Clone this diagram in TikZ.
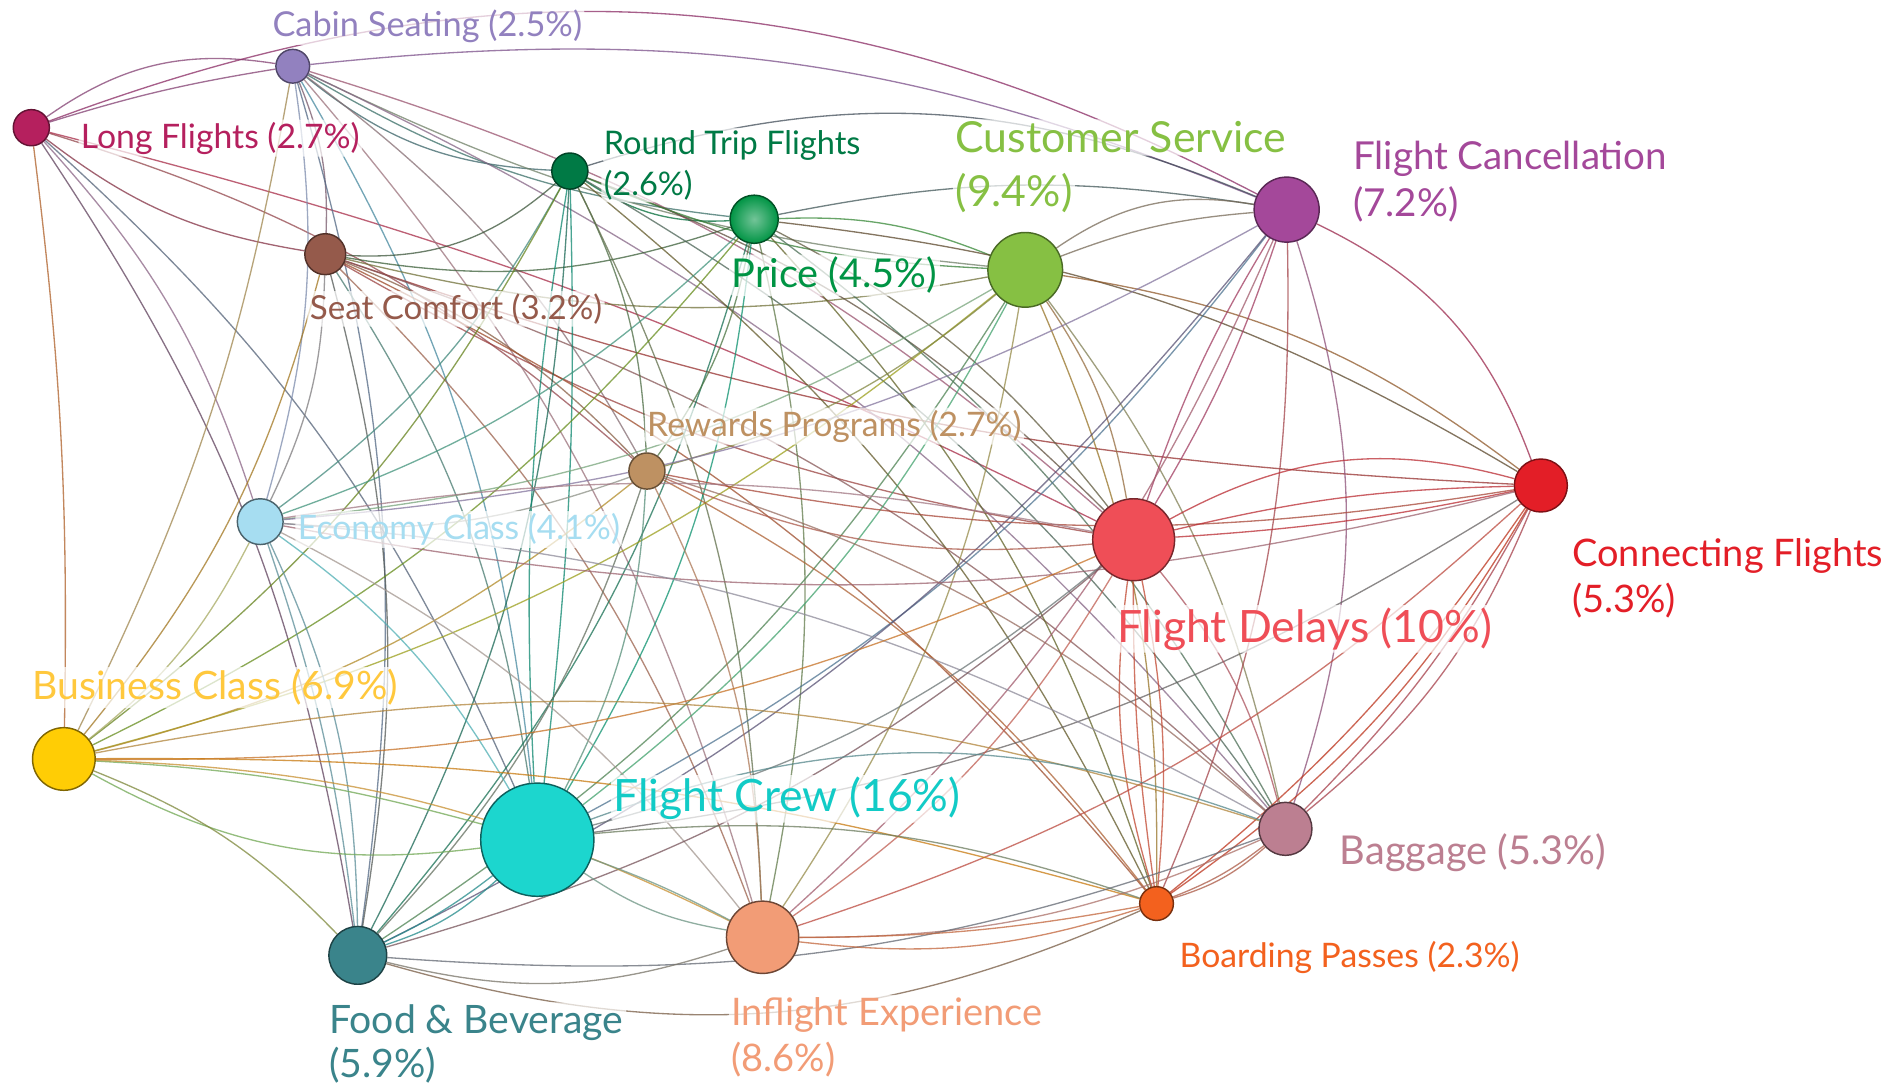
\documentclass[tikz,border=0pt]{standalone}
\usepackage{fontspec}
\setmainfont{Lato}
\pgfdeclarelayer{bg}
\pgfsetlayers{bg,main}

% node colours
\definecolor{cCS}{HTML}{9281BF}
\definecolor{cLF}{HTML}{B5205E}
\definecolor{cRT}{HTML}{007A45}
\definecolor{cPR}{HTML}{009444}
\definecolor{cSC}{HTML}{955A4B}
\definecolor{cCU}{HTML}{86C043}
\definecolor{cFC}{HTML}{A4489A}
\definecolor{cRP}{HTML}{BE9162}
\definecolor{cCF}{HTML}{E31E27}
\definecolor{cEC}{HTML}{A6DDF1}
\definecolor{cFD}{HTML}{EF4E57}
\definecolor{cBC}{HTML}{FFCD05}
\definecolor{cCR}{HTML}{1CD6CE}
\definecolor{cBG}{HTML}{BC7F91}
\definecolor{cBP}{HTML}{F3611E}
\definecolor{cFB}{HTML}{3A848B}
\definecolor{cIE}{HTML}{F29C76}
% label colours
\definecolor{tBCc}{HTML}{FFC83D}
\definecolor{tCRc}{HTML}{12CBC6}

\newcommand\lnk[3][12]{\draw[edge, draw=c#2!50!c#3!80!black] (#2) to[bend left=#1] (#3);}
\newcommand\fs[1]{\fontsize{#1}{#1}\selectfont}

\begin{document}
\begin{tikzpicture}[x=1pt,y=-1pt,
  dot/.style={circle, inner sep=0pt, line width=1.2pt},
  edge/.style={line width=1.1pt, draw opacity=0.75},
  lbl/.style={anchor=base west, inner sep=2pt, rounded corners=5pt,
    fill=white, fill opacity=0.7, text opacity=1}]
\useasboundingbox (0,0) rectangle (1568,901);

% topic nodes
\node[dot, minimum size=28pt, fill=cCS, draw=cCS!55!black] (CS) at (243,55) {};
\node[dot, minimum size=30pt, fill=cLF, draw=cLF!55!black] (LF) at (26,106) {};
\node[dot, minimum size=30pt, fill=cRT, draw=cRT!55!black] (RT) at (473,142) {};
\node[dot, minimum size=40pt, draw=cPR!55!black, shading=radial,
  inner color=cPR!55!white, outer color=cPR] (PR) at (626,182) {};
\node[dot, minimum size=34pt, fill=cSC, draw=cSC!55!black] (SC) at (270,211) {};
\node[dot, minimum size=62pt, fill=cCU, draw=cCU!55!black] (CU) at (851,224) {};
\node[dot, minimum size=54pt, fill=cFC, draw=cFC!55!black] (FC) at (1068,174) {};
\node[dot, minimum size=30pt, fill=cRP, draw=cRP!55!black] (RP) at (537,391) {};
\node[dot, minimum size=44pt, fill=cCF, draw=cCF!55!black] (CF) at (1279,403) {};
\node[dot, minimum size=38pt, fill=cEC, draw=cEC!45!black] (EC) at (216,433) {};
\node[dot, minimum size=68pt, fill=cFD, draw=cFD!50!black] (FD) at (941,448) {};
\node[dot, minimum size=52pt, fill=cBC, draw=cBC!50!black] (BC) at (53,630) {};
\node[dot, minimum size=94pt, fill=cCR, draw=cCR!45!black] (CR) at (446,697) {};
\node[dot, minimum size=44pt, fill=cBG, draw=cBG!45!black] (BG) at (1067,688) {};
\node[dot, minimum size=28pt, fill=cBP, draw=cBP!50!black] (BP) at (960,750) {};
\node[dot, minimum size=48pt, fill=cFB, draw=cFB!50!black] (FB) at (297,793) {};
\node[dot, minimum size=60pt, fill=cIE, draw=cIE!45!black] (IE) at (633,778) {};

% labels
\node[lbl, text=cCS, font=\fs{28.5}] (tCS) at (224,30) {Cabin Seating (2.5\%)};
\node[lbl, text=cLF, font=\fs{28}] (tLF) at (65,123) {Long Flights (2.7\%)};
\node[lbl, text=cRT, font=\fs{27}] (tRTa) at (499,128) {Round Trip Flights};
\node[lbl, text=cRT, font=\fs{27}] (tRTb) at (499,162) {(2.6\%)};
\node[lbl, text=cPR, font=\fs{33}] (tPR) at (605,239) {Price (4.5\%)};
\node[lbl, text=cCU, font=\fs{35.5}] (tCUa) at (791,127) {Customer Service};
\node[lbl, text=cCU, font=\fs{35.5}] (tCUb) at (791,171) {(9.4\%)};
\node[lbl, text=cFC, font=\fs{32}] (tFCa) at (1121,141) {Flight Cancellation};
\node[lbl, text=cFC, font=\fs{32}] (tFCb) at (1121,180) {(7.2\%)};
\node[lbl, text=cSC, font=\fs{27.5}] (tSC) at (255,265) {Seat Comfort (3.2\%)};
\node[lbl, text=cRP, font=\fs{28}] (tRP) at (535,362) {Rewards Programs (2.7\%)};
\node[lbl, text=cCF, font=\fs{31.5}] (tCFa) at (1303,470) {Connecting Flights};
\node[lbl, text=cCF, font=\fs{31.5}] (tCFb) at (1303,508) {(5.3\%)};
\node[lbl, text=cEC, font=\fs{28}] (tEC) at (245,448) {Economy Class (4.1\%)};
\node[lbl, text=cFD, font=\fs{37}] (tFD) at (925,533) {Flight Delays (10\%)};
\node[lbl, text=tBCc, font=\fs{32.5}] (tBC) at (25,581) {Business Class (6.9\%)};
\node[lbl, text=tCRc, font=\fs{37}] (tCR) at (507,674) {Flight Crew (16\%)};
\node[lbl, text=cBG, font=\fs{33}] (tBG) at (1110,718) {Baggage (5.3\%)};
\node[lbl, text=cBP, font=\fs{28}] (tBP) at (977,803) {Boarding Passes (2.3\%)};
\node[lbl, text=cFB, font=\fs{32.5}] (tFBa) at (271,858) {Food \& Beverage};
\node[lbl, text=cFB, font=\fs{32.5}] (tFBb) at (271,894) {(5.9\%)};
\node[lbl, text=cIE, font=\fs{31.5}] (tIEa) at (605,851) {Inflight Experience};
\node[lbl, text=cIE, font=\fs{31.5}] (tIEb) at (605,889) {(8.6\%)};

% co-occurrence links, kept under nodes and labels
\begin{pgfonlayer}{bg}
\fill[white] (0,0) rectangle (1568,901);
% Long Flights
\lnk[22]{LF}{CS} \lnk[4]{LF}{CS} \lnk[24]{LF}{FC} \lnk[-14]{LF}{SC}
\lnk[4]{LF}{BC} \lnk{LF}{FB} \lnk{LF}{EC} \lnk{LF}{CR} \lnk{LF}{RP} \lnk[6]{LF}{FD}
% Cabin Seating
\lnk{CS}{SC} \lnk{CS}{EC} \lnk[8]{CS}{BC} \lnk{CS}{FB} \lnk[-18]{CS}{RT} \lnk[-12]{CS}{PR}
\lnk[-10]{CS}{CU} \lnk[14]{CS}{FC} \lnk{CS}{RP} \lnk{CS}{CR} \lnk{CS}{FD} \lnk{CS}{IE} \lnk{CS}{BG}
% Seat Comfort
\lnk[-22]{SC}{RT} \lnk[-14]{SC}{PR} \lnk[-12]{SC}{CU} \lnk{SC}{EC} \lnk{SC}{BC} \lnk{SC}{FB}
\lnk{SC}{CR} \lnk{SC}{RP} \lnk{SC}{IE} \lnk[-10]{SC}{FD} \lnk[-8]{SC}{CF} \lnk{SC}{BG} \lnk{SC}{BP}
% Round Trip Flights
\lnk[-18]{RT}{PR} \lnk[20]{RT}{FC} \lnk{RT}{EC} \lnk{RT}{BC} \lnk{RT}{FB} \lnk[4]{RT}{CR} \lnk[-6]{RT}{CR}
\lnk{RT}{RP} \lnk{RT}{IE} \lnk{RT}{FD} \lnk{RT}{BG} \lnk{RT}{BP} \lnk[-10]{RT}{CU}
% Price
\lnk[10]{PR}{FC} \lnk{PR}{CU} \lnk{PR}{EC} \lnk{PR}{BC} \lnk{PR}{FB} \lnk{PR}{CR} \lnk{PR}{RP}
\lnk{PR}{IE} \lnk{PR}{FD} \lnk{PR}{BG} \lnk{PR}{CF} \lnk{PR}{BP}
% Customer Service
\lnk[22]{CU}{FC} \lnk[8]{CU}{FC} \lnk[14]{CU}{CF} \lnk{CU}{FD} \lnk{CU}{BG} \lnk{CU}{BP}
\lnk{CU}{IE} \lnk{CU}{CR} \lnk{CU}{FB} \lnk{CU}{BC} \lnk{CU}{EC} \lnk{CU}{RP}
% Flight Cancellation
\lnk[22]{FC}{CF} \lnk[18]{FC}{BG} \lnk[6]{FC}{FD} \lnk[-6]{FC}{FD} \lnk{FC}{CR} \lnk{FC}{FB}
\lnk{FC}{IE} \lnk{FC}{EC} \lnk{FC}{BP}
% Rewards Programs
\lnk{RP}{EC} \lnk[-14]{RP}{FD} \lnk[-10]{RP}{CF} \lnk{RP}{BG} \lnk{RP}{BP} \lnk{RP}{IE} \lnk{RP}{CR}
\lnk{RP}{FB} \lnk{RP}{BC}
% Connecting Flights
\lnk[-22]{CF}{FD} \lnk[-6]{CF}{FD} \lnk[4]{CF}{FD} \lnk[8]{CF}{BG} \lnk[14]{CF}{BG}
\lnk[8]{CF}{BP} \lnk[12]{CF}{BP} \lnk{CF}{IE} \lnk{CF}{CR} \lnk[12]{CF}{EC}
% Economy Class
\lnk{EC}{BC} \lnk{EC}{FB} \lnk[6]{EC}{FB} \lnk{EC}{CR} \lnk{EC}{IE} \lnk[10]{EC}{FD} \lnk{EC}{BG}
% Flight Delays
\lnk{FD}{BG} \lnk[8]{FD}{BP} \lnk[-4]{FD}{BP} \lnk[-12]{FD}{BP} \lnk{FD}{IE} \lnk{FD}{CR}
\lnk{FD}{FB} \lnk{FD}{BC}
% Business Class
\lnk[-18]{BC}{CR} \lnk[6]{BC}{CR} \lnk{BC}{FB} \lnk{BC}{IE} \lnk[14]{BC}{BG} \lnk[8]{BC}{BP}
% Flight Crew
\lnk{CR}{FB} \lnk[6]{CR}{FB} \lnk[-12]{CR}{IE} \lnk[4]{CR}{IE} \lnk[20]{CR}{BG} \lnk{CR}{BP}
% Baggage, Boarding Passes, Food & Beverage
\lnk{BG}{BP} \lnk[8]{BG}{BP} \lnk{BG}{IE} \lnk{BG}{FB}
\lnk[12]{BP}{IE} \lnk[5]{BP}{IE} \lnk[20]{BP}{FB} \lnk[-16]{FB}{IE}
\end{pgfonlayer}
\end{tikzpicture}
\end{document}
